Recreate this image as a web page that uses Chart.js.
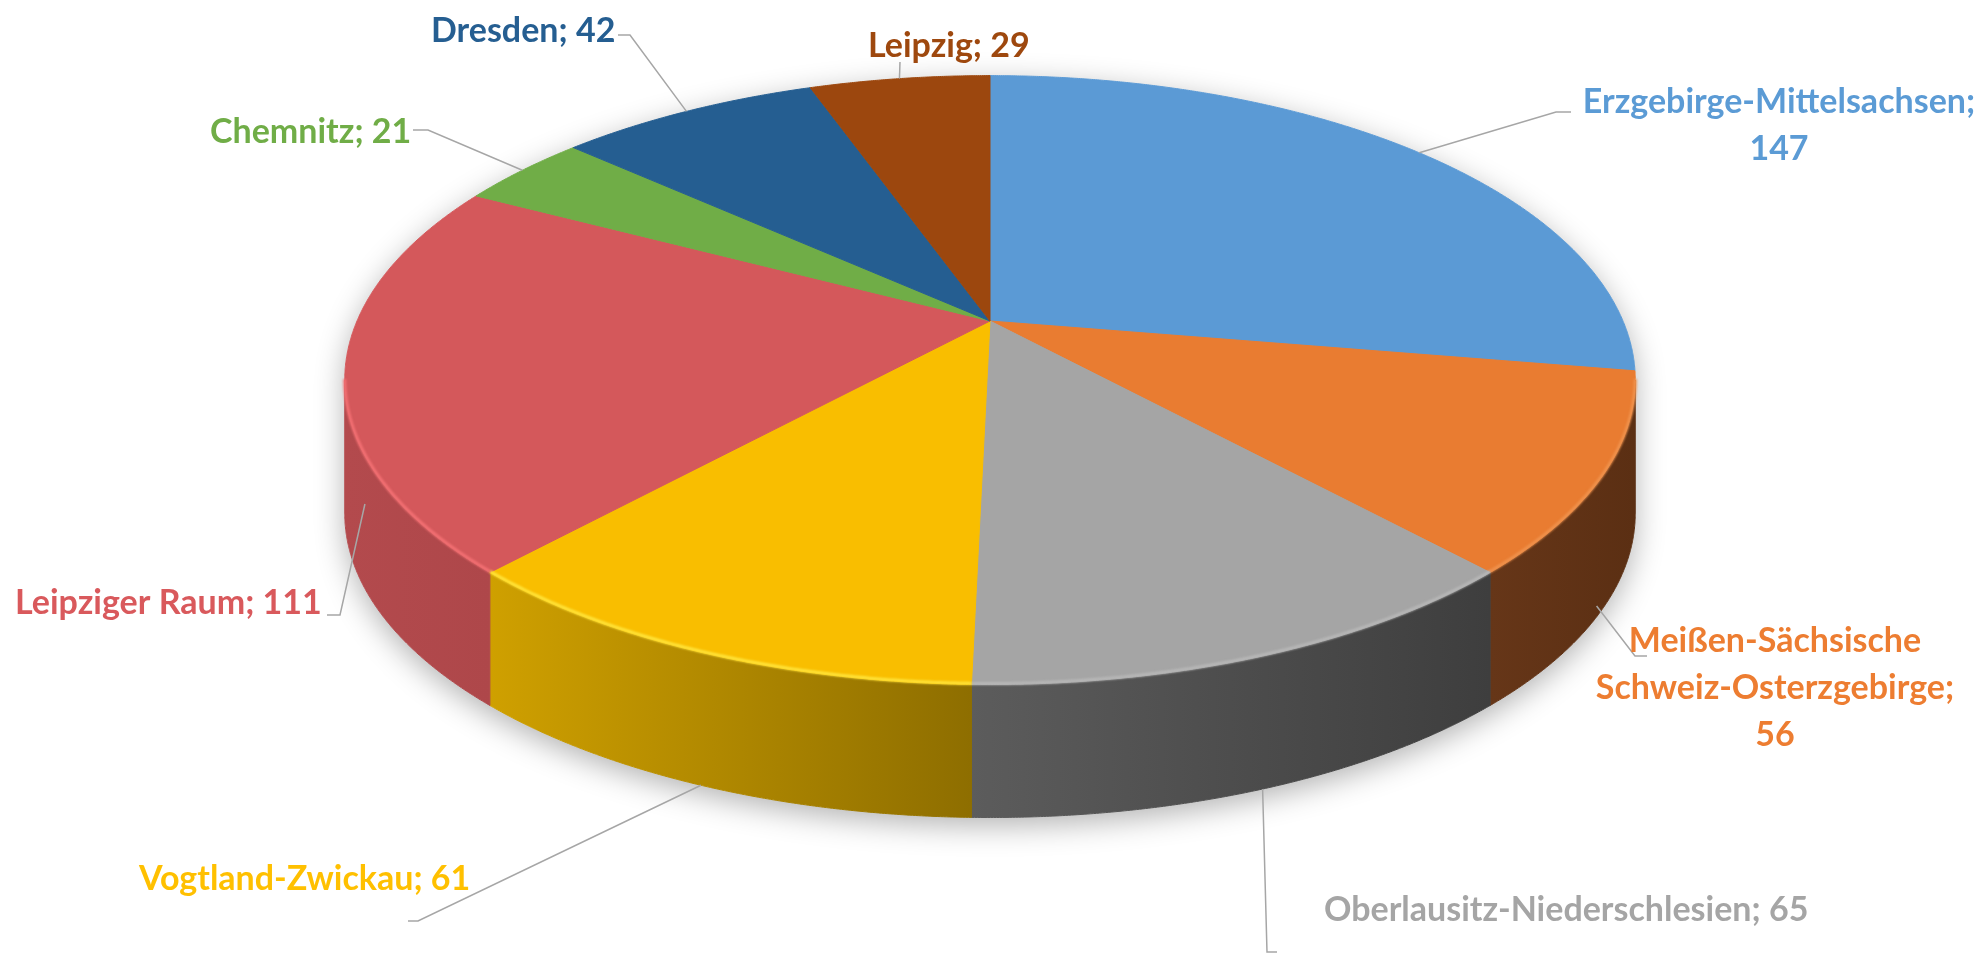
<!DOCTYPE html>
<html lang="de">
<head>
<meta charset="utf-8">
<title>Regionen</title>
<script src="https://cdn.jsdelivr.net/npm/chart.js@4.4.1/dist/chart.umd.min.js"></script>
<style>
  html, body { margin: 0; padding: 0; background: #fff; }
  #wrap { width: 1987px; height: 955px; }
</style>
</head>
<body>
<div id="wrap"><canvas id="chartRegionen" width="1987" height="955"></canvas></div>
<script>
// Daten
const regionen = [
    'Erzgebirge-Mittelsachsen',
    'Meißen-Sächsische Schweiz-Osterzgebirge',
    'Oberlausitz-Niederschlesien',
    'Vogtland-Zwickau',
    'Leipziger Raum',
    'Chemnitz',
    'Dresden',
    'Leipzig'
];
const anzahl = [147, 56, 65, 61, 111, 21, 42, 29];

// Farben (Oberseite, Seitenwand hell/dunkel, Kante, Beschriftung)
const farben      = ['#5B9AD5', '#E97C31', '#A5A5A5', '#F9BE00', '#D4585B', '#70AD47', '#255E91', '#9C470E'];
const seiteHell   = ['#3F73A3', '#663618', '#5C5C5C', '#CFA000', '#B34A4D', '#4F7F31', '#1A4468', '#6E320A'];
const seiteDunkel = ['#3A6B99', '#5B2F13', '#3E3E3E', '#8E6E00', '#AE474A', '#4A772E', '#173D5E', '#66300A'];
const kante       = ['#7DB2E2', '#F0934E', '#B8B8B8', '#FFE53C', '#F47174', '#8CC66A', '#3A78B0', '#B85E20'];
const textFarben  = ['#5B9BD5', '#ED7D31', '#A5A5A5', '#FFC000', '#D9595C', '#70AD47', '#255E91', '#9E480E'];

// Perspektive: Mittelpunkt, Breite, Höhe, Fluchtfaktor, Dicke
const CX = 990, AY = 321, A_X = 633, B_Y = 293, K = 0.194, TIEFE = 133;

// Beschriftungen: Position, Ausrichtung, Führungslinie
const beschriftung = [
    { x: 1779, y: 113, align: 'center', umbruch: 'wert',  linie: [[1571, 112], [1556, 112]], rf: 1,    tf: 0 },
    { x: 1775, y: 652, align: 'center', umbruch: 'name',  linie: [[1647, 656], [1635, 656]], rf: 0.99, tf: 1 },
    { x: 1324, y: 921, align: 'left',   umbruch: null,    linie: [[1277, 952], [1267, 952]], rf: 1,    tf: 1 },
    { x: 139,  y: 890, align: 'left',   umbruch: null,    linie: [[408, 921], [418, 921]],   rf: 1,    tf: 1 },
    { x: 15,   y: 614, align: 'left',   umbruch: null,    linie: [[327, 615], [340, 615]],   rf: 0.97, tf: 1 },
    { x: 210,  y: 143, align: 'left',   umbruch: null,    linie: [[413, 130], [428, 130]],   rf: 1,    tf: 0 },
    { x: 431,  y: 42,  align: 'left',   umbruch: null,    linie: [[618, 35], [630, 35]],     rf: 1,    tf: 0 },
    { x: 868,  y: 57,  align: 'left',   umbruch: null,    linie: [[900, 62]],                rf: 1,    tf: 0 }
];
const zeilenAbstand = 47;
const schrift = 'bold 34px Lato';

// Winkel des Kreisbogens (Chart.js, 0 = 3 Uhr) -> Bildpunkt
function projiziere(winkel, rf, dy) {
    const u = rf * Math.cos(winkel), w = rf * Math.sin(winkel);
    const n = 1 - K * w;
    return [CX + A_X * u / n, AY + B_Y * w / n + dy];
}

function rand(ctx, a0, a1, dy, neu) {
    const n = Math.max(2, Math.ceil(Math.abs(a1 - a0) / 0.004));
    for (let k = 0; k <= n; k++) {
        const p = projiziere(a0 + (a1 - a0) * k / n, 1, dy);
        if (k === 0 && neu) ctx.moveTo(p[0], p[1]);
        else ctx.lineTo(p[0], p[1]);
    }
}

// sichtbarer Bereich der Seitenwand
const SICHT_A = Math.asin(K), SICHT_B = Math.PI - Math.asin(K);

const torte3d = {
    id: 'torte3d',
    beforeDatasetsDraw(chart) {
        const ctx = chart.ctx;
        const arcs = chart.getDatasetMeta(0).data;

        // Schatten unter der Torte
        ctx.save();
        ctx.shadowColor = 'rgba(0,0,0,0.30)';
        ctx.shadowBlur = 30;
        ctx.shadowOffsetY = 8;
        ctx.fillStyle = '#fff';
        ctx.beginPath();
        rand(ctx, SICHT_B, SICHT_A + 2 * Math.PI, 0, true);
        rand(ctx, SICHT_A, SICHT_B, TIEFE, false);
        ctx.closePath();
        ctx.fill();
        ctx.restore();

        // Seitenwände
        arcs.forEach((arc, i) => {
            const lo = Math.max(arc.startAngle, SICHT_A);
            const hi = Math.min(arc.endAngle, SICHT_B);
            if (lo >= hi) return;
            const xl = projiziere(hi, 1, 0)[0], xr = projiziere(lo, 1, 0)[0];
            const g = ctx.createLinearGradient(xl, 0, xr + 0.01, 0);
            g.addColorStop(0, seiteHell[i]);
            g.addColorStop(1, seiteDunkel[i]);
            ctx.save();
            ctx.fillStyle = g;
            ctx.strokeStyle = g;
            ctx.lineWidth = 1;
            ctx.beginPath();
            rand(ctx, lo, hi, 0, true);
            rand(ctx, hi, lo, TIEFE, false);
            ctx.closePath();
            ctx.fill();
            ctx.stroke();
            ctx.restore();
        });

        // Oberseite
        arcs.forEach((arc, i) => {
            ctx.save();
            ctx.fillStyle = farben[i];
            ctx.strokeStyle = farben[i];
            ctx.lineWidth = 1;
            ctx.lineJoin = 'round';
            ctx.beginPath();
            ctx.moveTo(CX, AY);
            rand(ctx, arc.startAngle, arc.endAngle, 0, false);
            ctx.closePath();
            ctx.fill();
            ctx.stroke();
            ctx.restore();
        });

        // helle Kante vorne
        arcs.forEach((arc, i) => {
            const lo = Math.max(arc.startAngle, SICHT_A);
            const hi = Math.min(arc.endAngle, SICHT_B);
            if (lo >= hi) return;
            ctx.save();
            ctx.filter = 'blur(1.2px)';
            ctx.strokeStyle = kante[i];
            ctx.lineWidth = 3;
            ctx.beginPath();
            rand(ctx, lo, hi, -1, true);
            ctx.stroke();
            ctx.restore();
        });
        return false;
    },
    afterDraw(chart) {
        const ctx = chart.ctx;
        const arcs = chart.getDatasetMeta(0).data;
        ctx.save();
        ctx.font = schrift;
        ctx.textBaseline = 'alphabetic';
        arcs.forEach((arc, i) => {
            const b = beschriftung[i];
            // Führungslinie
            const p = projiziere((arc.startAngle + arc.endAngle) / 2, b.rf, TIEFE * b.tf);
            ctx.strokeStyle = '#A6A6A6';
            ctx.lineWidth = 1.5;
            ctx.beginPath();
            ctx.moveTo(b.linie[0][0], b.linie[0][1]);
            for (let k = 1; k < b.linie.length; k++) ctx.lineTo(b.linie[k][0], b.linie[k][1]);
            ctx.lineTo(p[0], p[1]);
            ctx.stroke();
            // Text
            let zeilen;
            if (b.umbruch === 'wert') zeilen = [regionen[i] + ';', String(anzahl[i])];
            else if (b.umbruch === 'name') {
                const teile = regionen[i].split(' ');
                teile[teile.length - 1] += ';';
                zeilen = teile.concat(String(anzahl[i]));
            } else zeilen = [regionen[i] + '; ' + anzahl[i]];
            ctx.fillStyle = textFarben[i];
            ctx.textAlign = b.align;
            zeilen.forEach((z, k) => ctx.fillText(z, b.x, b.y + k * zeilenAbstand));
        });
        ctx.restore();
    }
};

new Chart(document.getElementById('chartRegionen'), {
    type: 'pie',
    data: {
        labels: regionen,
        datasets: [{
            data: anzahl,
            backgroundColor: farben,
            borderWidth: 0
        }]
    },
    options: {
        responsive: false,
        animation: false,
        events: [],
        plugins: {
            legend: { display: false },
            tooltip: { enabled: false },
            title: { display: false }
        }
    },
    plugins: [torte3d]
});
</script>
</body>
</html>
